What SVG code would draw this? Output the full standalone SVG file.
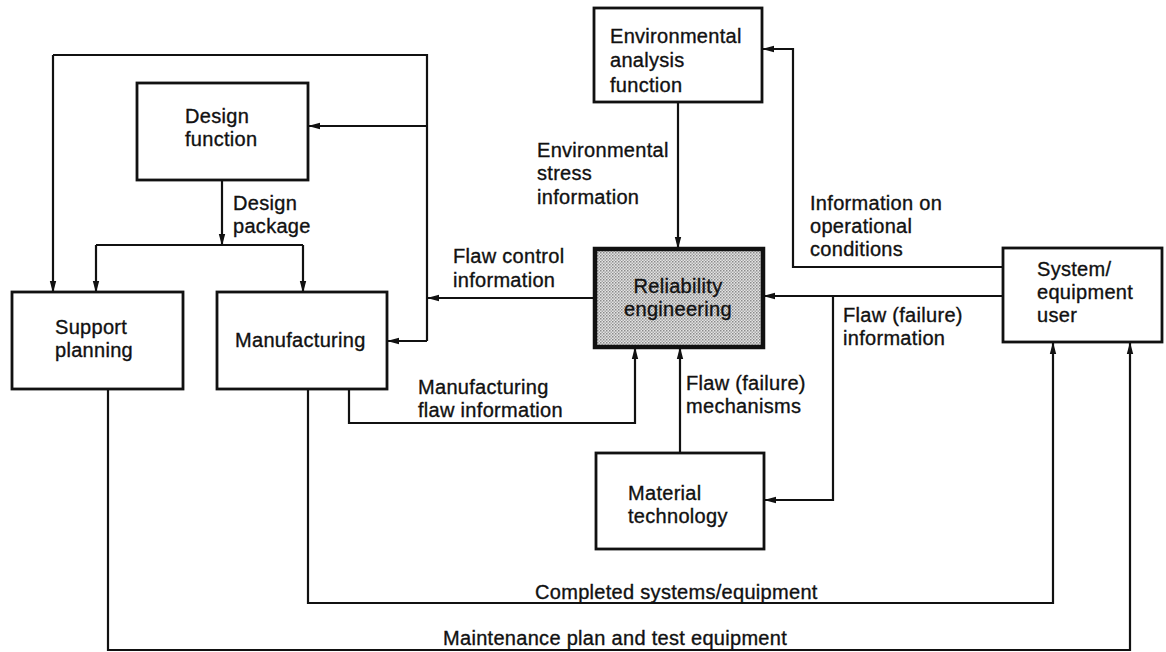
<svg xmlns="http://www.w3.org/2000/svg" width="1166" height="652" viewBox="0 0 1166 652">
<style>
text{font-family:"Liberation Sans",Arial,Helvetica,sans-serif;font-size:20px;letter-spacing:0.3px;fill:#111;stroke:#111;stroke-width:0.35}
.box{fill:#fff;stroke:#111;stroke-width:2.8}
.rel{fill:url(#dots);stroke:#111;stroke-width:4.5}
.ln{fill:none;stroke:#111;stroke-width:2.2}
.ar{fill:none;stroke:#111;stroke-width:2.2;marker-end:url(#ah)}
</style>
<defs>
<marker id="ah" markerWidth="12" markerHeight="8" refX="11" refY="4" orient="auto" markerUnits="userSpaceOnUse">
<path d="M0,0.8 L12,4 L0,7.2 z" fill="#111"/>
</marker>
<pattern id="dots" width="3" height="3" patternUnits="userSpaceOnUse">
<rect width="3" height="3" fill="#e4e4e4"/>
<rect width="1.5" height="1.5" fill="#8a8a8a"/>
<rect x="1.5" y="1.5" width="1.5" height="1.5" fill="#a8a8a8"/>
</pattern>
</defs>
<g id="connectors">
<path class="ln" d="M53,55 H427 V341"/>
<path class="ar" d="M53,55 V292"/>
<path class="ar" d="M427,126 H309"/>
<path class="ar" d="M427,341 H388"/>
<path class="ar" d="M594,298 H428"/>
<path class="ar" d="M222,180 V245"/>
<path class="ln" d="M96,245 H303"/>
<path class="ar" d="M96,245 V292"/>
<path class="ar" d="M303,245 V292"/>
<path class="ar" d="M678,102 V248"/>
<path class="ar" d="M1003,267 H793 V49 H763"/>
<path class="ar" d="M1003,296 H764"/>
<path class="ar" d="M833,296 V500 H765"/>
<path class="ar" d="M680,453 V348"/>
<path class="ar" d="M349,389 V423 H635 V348"/>
<path class="ar" d="M308,389 V603 H1053 V343"/>
<path class="ar" d="M108,389 V650 H1130 V343"/>
</g>
<g id="design-function">
<rect class="box" x="137" y="83" width="171" height="97"/>
<text x="185" y="123">Design</text>
<text x="185" y="146">function</text>
</g>
<g id="support-planning">
<rect class="box" x="12" y="292" width="171" height="97"/>
<text x="55" y="334">Support</text>
<text x="55" y="357">planning</text>
</g>
<g id="manufacturing">
<rect class="box" x="217" y="292" width="170" height="97"/>
<text x="235" y="347">Manufacturing</text>
</g>
<g id="environmental-analysis">
<rect class="box" x="594" y="8" width="168" height="94"/>
<text x="610" y="43">Environmental</text>
<text x="610" y="67">analysis</text>
<text x="610" y="92">function</text>
</g>
<g id="reliability-engineering">
<rect class="rel" x="595" y="249" width="168" height="98"/>
<text x="678" y="293" text-anchor="middle">Reliability</text>
<text x="678" y="316" text-anchor="middle">engineering</text>
</g>
<g id="material-technology">
<rect class="box" x="596" y="453" width="168" height="96"/>
<text x="628" y="500">Material</text>
<text x="628" y="523">technology</text>
</g>
<g id="system-user">
<rect class="box" x="1003" y="248" width="159" height="94"/>
<text x="1037" y="276">System/</text>
<text x="1037" y="299">equipment</text>
<text x="1037" y="322">user</text>
</g>
<g id="labels">
<text x="233" y="210">Design</text>
<text x="233" y="233">package</text>
<text x="537" y="157">Environmental</text>
<text x="537" y="180">stress</text>
<text x="537" y="204">information</text>
<text x="810" y="210">Information on</text>
<text x="810" y="233">operational</text>
<text x="810" y="256">conditions</text>
<text x="453" y="263">Flaw control</text>
<text x="453" y="287">information</text>
<text x="843" y="322">Flaw (failure)</text>
<text x="843" y="345">information</text>
<text x="418" y="394">Manufacturing</text>
<text x="418" y="417">flaw information</text>
<text x="686" y="390">Flaw (failure)</text>
<text x="686" y="413">mechanisms</text>
<text x="535" y="599">Completed systems/equipment</text>
<text x="443" y="645">Maintenance plan and test equipment</text>
</g>
</svg>
